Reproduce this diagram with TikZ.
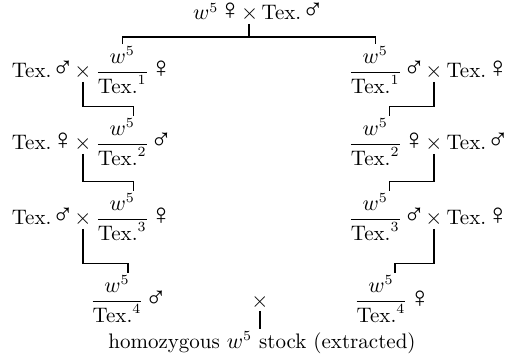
\documentclass[tikz,border=0pt]{standalone}
\usepackage{amsmath}
\usepackage{fontspec}
\newfontfamily\symfont[Scale=1.4]{Liberation Serif}
\newcommand{\fem}{{\symfont\kern-0.1em\char"2640\kern-0.24em}}
\newcommand{\mal}{{\symfont\kern-0.1em\char"2642\kern-0.24em}}
\newcommand{\wfrac}[1]{$\dfrac{w^5}{\text{Tex.}^{#1}}$}
\usetikzlibrary{positioning}

\begin{document}
\begin{tikzpicture}[
 x=0.5pt, y=-0.5pt, node distance=0pt, font=\fontsize{10.5}{12}\selectfont,
 txt/.style={inner sep=0.8pt, anchor=base},
 link/.style={line width=0.6pt},
]
\useasboundingbox (0,0) rectangle (506,356);
\node[txt] (title) at (255,20) {$w^5$\,\fem\,\,$\times$\,Tex.\,\mal};
% left line
\node[txt] (L1x) at (83,78) {$\times$};
\node[txt, base left=of L1x] (L1a) {Tex.\,\mal\,};
\node[txt, base right=of L1x] (L1f) {\wfrac{1}};
\node[txt, base right=of L1f] (L1s) {\fem};
\node[txt] (L2x) at (83,150) {$\times$};
\node[txt, base left=of L2x] (L2a) {Tex.\,\fem\,};
\node[txt, base right=of L2x] (L2f) {\wfrac{2}};
\node[txt, base right=of L2f] (L2s) {\mal};
\node[txt] (L3x) at (83,225) {$\times$};
\node[txt, base left=of L3x] (L3a) {Tex.\,\mal\,};
\node[txt, base right=of L3x] (L3f) {\wfrac{3}};
\node[txt, base right=of L3f] (L3s) {\fem};
\node[txt] (L4f) at (117,307) {\wfrac{4}};
\node[txt, base right=of L4f] (L4s) {\mal};
% right line
\node[txt] (R1x) at (434,78) {$\times$};
\node[txt, base left=of R1x] (R1s) {\mal\,};
\node[txt, base left=of R1s] (R1f) {\wfrac{1}};
\node[txt, base right=of R1x] (R1b) {Tex.\,\fem};
\node[txt] (R2x) at (434,150) {$\times$};
\node[txt, base left=of R2x] (R2s) {\fem\,};
\node[txt, base left=of R2s] (R2f) {\wfrac{2}};
\node[txt, base right=of R2x] (R2b) {Tex.\,\mal};
\node[txt] (R3x) at (434,225) {$\times$};
\node[txt, base left=of R3x] (R3s) {\mal\,};
\node[txt, base left=of R3s] (R3f) {\wfrac{3}};
\node[txt, base right=of R3x] (R3b) {Tex.\,\fem};
\node[txt] (R4f) at (381,307) {\wfrac{4}};
\node[txt, base right=of R4f] (R4s) {\fem};
% final cross
\node[txt] (X) at (260,307) {$\times$};
\node[txt] (stock) at (262,348) {homozygous $w^5$ stock (extracted)};
\coordinate (top) at (249,37);
\draw[link] (title.south -| top) -- (top);
\draw[link] (L1f.north) |- (top) -| (R1f.north);
\draw[link] (L1x.south) |- ([xshift=5.5pt,yshift=5pt]L2f.north) -- ([xshift=5.5pt]L2f.north);
\draw[link] (L2x.south) |- ([xshift=5.5pt,yshift=5pt]L3f.north) -- ([xshift=5.5pt]L3f.north);
\draw[link] (L3x.south) |- ([xshift=5.5pt,yshift=5pt]L4f.north) -- ([xshift=5.5pt]L4f.north);
\draw[link] (R1x.south) |- ([xshift=7pt,yshift=5pt]R2f.north) -- ([xshift=7pt]R2f.north);
\draw[link] (R2x.south) |- ([xshift=7pt,yshift=5pt]R3f.north) -- ([xshift=7pt]R3f.north);
\draw[link] (R3x.south) |- ([xshift=7pt,yshift=5pt]R4f.north) -- ([xshift=7pt]R4f.north);
\draw[link] (X.south) -- (X.south |- stock.north);
\end{tikzpicture}
\end{document}
